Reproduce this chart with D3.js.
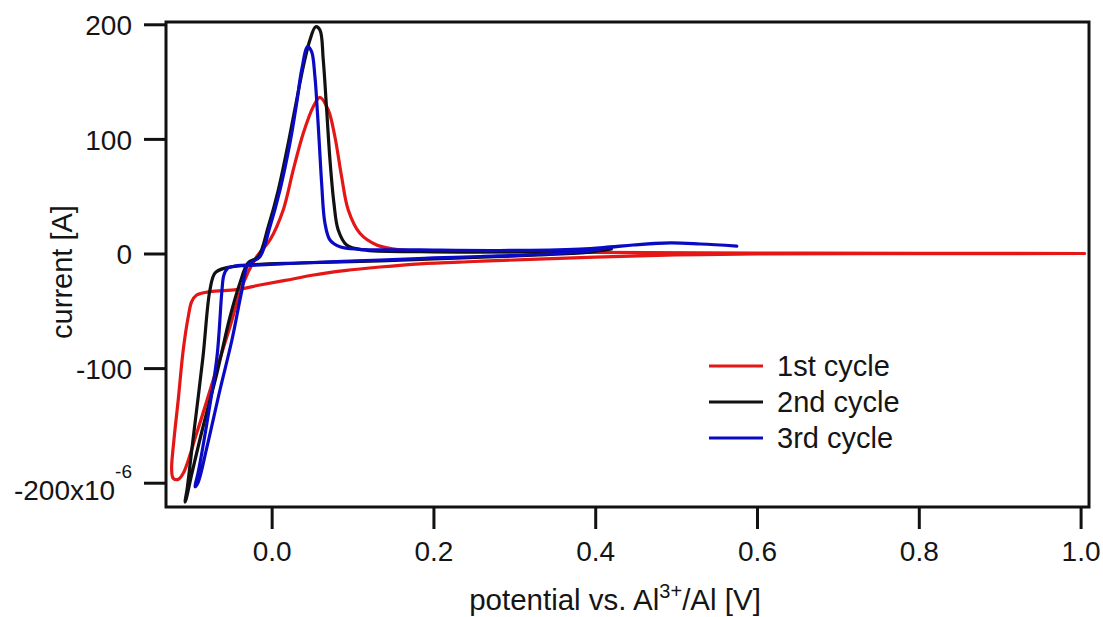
<!DOCTYPE html>
<html>
<head>
<meta charset="utf-8">
<script src="https://cdn.jsdelivr.net/npm/d3@7"></script>
<style>
  body { margin: 0; background: #fff; }
  svg { display: block; }
  text { font-family: "Liberation Sans", Arial, sans-serif; fill: #151515; }
</style>
</head>
<body>
<svg id="chart" width="1103" height="617"></svg>
<script>
// Cyclic voltammograms: potential (V vs. Al3+/Al) and current (µA, axis in units of 1e-6 A)
const cycle1Potential = [1.005, 0.8, 0.6, 0.5, 0.4, 0.32, 0.25, 0.1833, 0.134, 0.09, 0.05, 0.0167, -0.0145, -0.0433, -0.0763, -0.0927, -0.0989, -0.1031, -0.1093, -0.1155, -0.1208, -0.1236, -0.1216, -0.1155, -0.1093, -0.0927, -0.0722, -0.0515, -0.0351, -0.0185, -0.0021, 0.0143, 0.0267, 0.0391, 0.0514, 0.0597, 0.0700, 0.0782, 0.0865, 0.0947, 0.1091, 0.1298, 0.1586, 0.2, 0.3, 0.4, 0.6, 0.8, 1.005];
const cycle1Current   = [0.0, -0.1, -0.4, -1.3, -3.2, -5.2, -7.0, -9.0, -11.8, -15.0, -19.0, -23.5, -27.5, -31.5, -33.3, -36.2, -42.1, -55.2, -84.2, -127.8, -162.7, -188.9, -196.2, -197.1, -191.8, -156.9, -110.4, -63.9, -26.0, -2.8, 11.8, 38.0, 72.9, 104.9, 128.1, 136.3, 125.2, 101.9, 67.0, 38.0, 17.6, 7.4, 3.1, 2.2, 1.3, 0.9, 0.4, 0.2, 0.0];

const cycle2Potential = [0.42, 0.39, 0.33, 0.26, 0.2, 0.134, 0.035, -0.027, -0.0577, -0.070, -0.0763, -0.0849, -0.0973, -0.1047, -0.1072, -0.1060, -0.0985, -0.0849, -0.0676, -0.0515, -0.0392, -0.0293, -0.0166, -0.0042, 0.0082, 0.0205, 0.0309, 0.0391, 0.0473, 0.0544, 0.0597, 0.0638, 0.0680, 0.0721, 0.0770, 0.0823, 0.0927, 0.1132, 0.1833, 0.282, 0.356, 0.406, 0.42];
const cycle2Current   = [4.0, 1.0, -1.3, -3.1, -4.8, -6.5, -8.3, -10.0, -12.7, -17.0, -31.9, -90.3, -162.8, -206.4, -216.9, -215.0, -191.6, -151.4, -104.3, -55.4, -25.7, -8.3, -2.8, 23.4, 55.4, 96.2, 134.0, 163.0, 186.3, 197.9, 195.0, 168.9, 125.2, 81.6, 43.8, 20.5, 7.4, 3.1, 1.6, 1.3, 2.2, 3.9, 4.0];

const cycle3Potential = [0.575, 0.53, 0.493, 0.447, 0.418, 0.393, 0.332, 0.258, 0.2, 0.134, 0.035, -0.014, -0.045, -0.054, -0.059, -0.0614, -0.0676, -0.080, -0.091, -0.0948, -0.0911, -0.080, -0.0639, -0.0491, -0.0367, -0.0293, -0.0145, -0.0021, 0.0103, 0.0226, 0.0309, 0.0371, 0.0445, 0.0494, 0.0535, 0.0564, 0.0589, 0.0618, 0.0659, 0.0721, 0.0844, 0.1091, 0.1833, 0.282, 0.381, 0.418, 0.447, 0.493, 0.530, 0.575];
const cycle3Current   = [6.5, 8.3, 9.2, 7.4, 5.2, 2.2, -0.8, -2.6, -3.9, -5.7, -8.3, -10.0, -10.9, -12.7, -18.8, -31.9, -90.3, -147.9, -191.6, -203.5, -200.0, -168.9, -119.1, -75.5, -31.9, -10.0, -2.8, 23.4, 55.4, 96.2, 131.1, 160.2, 180.5, 176.1, 154.3, 125.2, 96.2, 61.3, 26.4, 11.8, 5.9, 3.7, 3.1, 2.6, 3.9, 5.7, 7.4, 9.2, 8.3, 6.5];

const cycleNames  = ["1st cycle", "2nd cycle", "3rd cycle"];
const cycleColors = ["#e41616", "#111111", "#0a0ac4"];

const xTickValues = [0.0, 0.2, 0.4, 0.6, 0.8, 1.0];
const xTickLabels = ["0.0", "0.2", "0.4", "0.6", "0.8", "1.0"];
const yTickValues = [-200, -100, 0, 100, 200];
const yTickLabels = ["-200x10", "-100", "0", "100", "200"];
const yTickExponents = ["-6", "", "", "", ""];

const svg = d3.select("#chart");
const plot = { left: 166, right: 1089, top: 22, bottom: 507 };

const x = d3.scaleLinear().domain([-0.1306, 1.0104]).range([plot.left, plot.right]);
const y = d3.scaleLinear().domain([-221.2, 202.0]).range([plot.bottom, plot.top]);

// traces
const series = [
  { v: cycle1Potential, i: cycle1Current },
  { v: cycle2Potential, i: cycle2Current },
  { v: cycle3Potential, i: cycle3Current }
];
const line = d3.line()
  .x(d => x(d[0]))
  .y(d => y(d[1]))
  .curve(d3.curveCatmullRom.alpha(0.5));

svg.append("clipPath").attr("id", "plotArea")
  .append("rect")
  .attr("x", plot.left).attr("y", plot.top)
  .attr("width", plot.right - plot.left).attr("height", plot.bottom - plot.top);

const traces = svg.append("g").attr("clip-path", "url(#plotArea)");
series.forEach((s, k) => {
  traces.append("path")
    .datum(d3.zip(s.v, s.i))
    .attr("d", line)
    .attr("fill", "none")
    .attr("stroke", cycleColors[k])
    .attr("stroke-width", 3.2)
    .attr("stroke-linejoin", "round")
    .attr("stroke-linecap", "round");
});

// frame
svg.append("rect")
  .attr("x", plot.left).attr("y", plot.top)
  .attr("width", plot.right - plot.left).attr("height", plot.bottom - plot.top)
  .attr("fill", "none").attr("stroke", "#111").attr("stroke-width", 3);

// bottom axis
const xAxis = d3.axisBottom(x)
  .tickValues(xTickValues)
  .tickFormat((d, k) => xTickLabels[k])
  .tickSize(22)
  .tickPadding(12);
const gx = svg.append("g").attr("transform", `translate(0,${plot.bottom})`).call(xAxis);
gx.select(".domain").remove();
gx.selectAll(".tick line").attr("stroke", "#111").attr("stroke-width", 3);
gx.selectAll(".tick text").attr("font-size", 28).attr("fill", "#151515")
  .attr("font-family", "'Liberation Sans', Arial, sans-serif");

// left axis
const yAxis = d3.axisLeft(y)
  .tickValues(yTickValues)
  .tickFormat("")
  .tickSize(22);
const gy = svg.append("g").attr("transform", `translate(${plot.left},0)`).call(yAxis);
gy.select(".domain").remove();
gy.selectAll(".tick line").attr("stroke", "#111").attr("stroke-width", 3);

const yLabels = svg.append("g").attr("font-size", 28).attr("text-anchor", "end");
yTickValues.forEach((v, k) => {
  const t = yLabels.append("text")
    .attr("x", 132)
    .attr("y", y(v) + (yTickExponents[k] ? 17 : 11));
  t.append("tspan").text(yTickLabels[k]);
  if (yTickExponents[k]) {
    t.append("tspan").attr("font-size", 19).attr("dy", -22).text(yTickExponents[k]);
  }
});

// axis titles
svg.append("text")
  .attr("transform", `translate(72,272) rotate(-90)`)
  .attr("text-anchor", "middle")
  .attr("font-size", 29)
  .text("current [A]");

const xt = svg.append("text")
  .attr("x", 615).attr("y", 610)
  .attr("text-anchor", "middle")
  .attr("font-size", 29.5);
xt.append("tspan").text("potential vs. Al");
xt.append("tspan").attr("font-size", 20).attr("dy", -12).text("3+");
xt.append("tspan").attr("dy", 12).text("/Al [V]");

// legend
const legend = svg.append("g").attr("transform", "translate(709,366)");
cycleNames.forEach((name, k) => {
  const row = legend.append("g").attr("transform", `translate(0,${k * 36})`);
  row.append("line").attr("x1", 0).attr("x2", 54).attr("y1", 0).attr("y2", 0)
    .attr("stroke", cycleColors[k]).attr("stroke-width", 3);
  row.append("text").attr("x", 68).attr("y", 10).attr("font-size", 29).text(name);
});
</script>
</body>
</html>
